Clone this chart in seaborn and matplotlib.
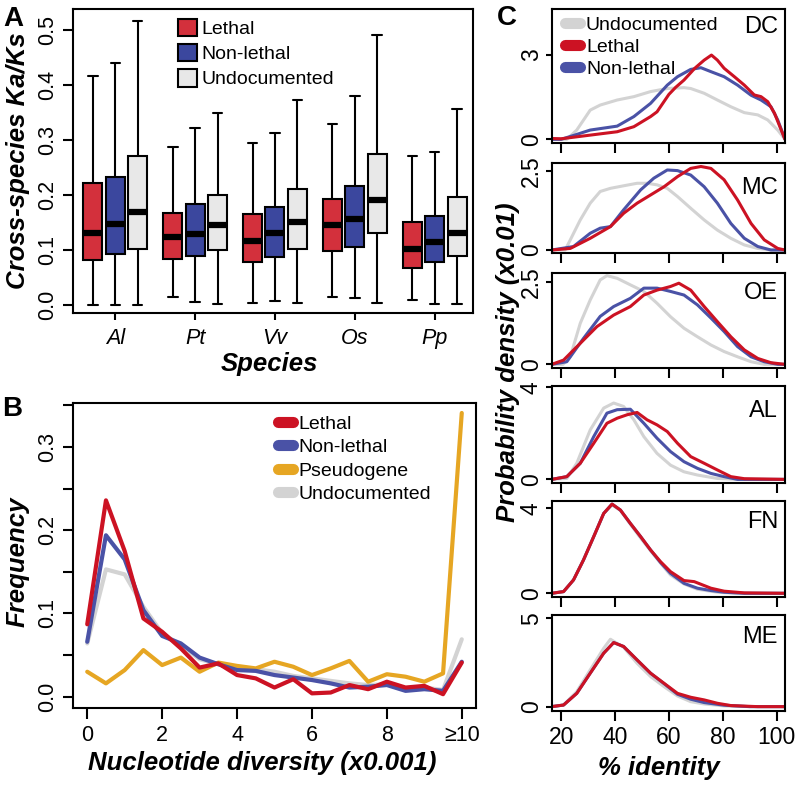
import numpy as np
import pandas as pd
import matplotlib
matplotlib.use("Agg")
import matplotlib.pyplot as plt
import seaborn as sns
from matplotlib.patches import Patch
from matplotlib.lines import Line2D

# ---------------- Panel A data: five-number summaries [min, q1, median, q3, max]
SPECIES = ["Al", "Pt", "Vv", "Os", "Pp"]
GROUPS_A = ["Lethal", "Non-lethal", "Undocumented"]
LETHAL_BOX = [[0.000, 0.082, 0.131, 0.221, 0.416],
              [0.014, 0.083, 0.123, 0.167, 0.288],
              [0.004, 0.078, 0.117, 0.165, 0.294],
              [0.014, 0.099, 0.146, 0.192, 0.329],
              [0.010, 0.068, 0.101, 0.150, 0.270]]
NONLETHAL_BOX = [[0.000, 0.092, 0.147, 0.232, 0.440],
                 [0.005, 0.090, 0.129, 0.184, 0.321],
                 [0.007, 0.088, 0.130, 0.179, 0.312],
                 [0.013, 0.105, 0.157, 0.216, 0.380],
                 [0.001, 0.079, 0.114, 0.161, 0.278]]
UNDOC_BOX = [[0.000, 0.101, 0.169, 0.270, 0.517],
             [0.002, 0.100, 0.146, 0.200, 0.349],
             [0.003, 0.101, 0.150, 0.210, 0.373],
             [0.004, 0.130, 0.190, 0.274, 0.491],
             [0.001, 0.090, 0.130, 0.197, 0.356]]

# ---------------- Panel B data
DIVERSITY = [0, 0.5, 1, 1.5, 2, 2.5, 3, 3.5, 4, 4.5, 5, 5.5, 6, 6.5, 7, 7.5, 8, 8.5, 9, 9.5, 10]
B_LETHAL = [0.087, 0.236, 0.175, 0.094, 0.078, 0.058, 0.035, 0.040, 0.026, 0.022, 0.011, 0.021,
            0.004, 0.005, 0.014, 0.009, 0.018, 0.011, 0.013, 0.003, 0.041]
B_NONLETHAL = [0.066, 0.194, 0.165, 0.104, 0.073, 0.064, 0.047, 0.039, 0.032, 0.031, 0.026, 0.023,
               0.020, 0.016, 0.011, 0.012, 0.014, 0.007, 0.009, 0.007, 0.042]
B_PSEUDO = [0.030, 0.016, 0.032, 0.056, 0.038, 0.047, 0.030, 0.041, 0.037, 0.034, 0.042, 0.036,
            0.026, 0.034, 0.043, 0.018, 0.027, 0.024, 0.018, 0.028, 0.341]
B_UNDOC = [0.064, 0.153, 0.147, 0.108, 0.076, 0.062, 0.045, 0.039, 0.033, 0.033, 0.030, 0.025,
           0.022, 0.019, 0.016, 0.014, 0.015, 0.010, 0.011, 0.008, 0.069]
B_XTICKS = [0, 2, 4, 6, 8, 10]
B_XLABELS = ["0", "2", "4", "6", "8", "\u226510"]

# ---------------- Panel C data (% identity, density x0.01)
C_PANELS = ["DC", "MC", "OE", "AL", "FN", "ME"]
C_YTICKS = [3, 2.5, 2.5, 4, 4, 5]
C_YLIMS = [(-0.12, 4.63), (-0.104, 2.76), (-0.12, 2.79), (-0.17, 4.06), (-0.16, 4.36), (-0.23, 5.18)]

DC_UNDOC_X = [16.5, 22.1, 25.8, 30.8, 34.5, 40.8, 47.0, 53.2, 59.4, 65.6, 68.1, 73.1, 78.0, 83.0, 88.0, 93.0, 96.7, 100.4, 103.1]
DC_UNDOC_Y = [0.0, 0.0, 0.33, 1.04, 1.22, 1.40, 1.52, 1.70, 1.81, 1.84, 1.81, 1.64, 1.40, 1.16, 0.95, 0.87, 0.69, 0.33, 0.0]
DC_NONL_X = [16.5, 20.0, 25.0, 30.8, 40.8, 47.0, 53.2, 59.4, 63.2, 68.1, 71.9, 75.6, 80.5, 85.5, 90.5, 94.2, 97.9, 100.4, 103.1]
DC_NONL_Y = [0.0, 0.0, 0.15, 0.33, 0.47, 0.81, 1.28, 1.93, 2.23, 2.49, 2.55, 2.41, 2.23, 1.93, 1.57, 1.40, 1.16, 0.69, 0.0]
DC_LETH_X = [16.5, 20.0, 25.0, 30.8, 40.8, 47.0, 53.2, 55.6, 60.0, 62.5, 65.6, 69.6, 73.1, 75.8, 78.0, 80.5, 84.3, 88.0, 91.7, 94.2, 96.7, 99.2, 101.7, 103.1]
DC_LETH_Y = [0.03, 0.02, 0.08, 0.15, 0.27, 0.45, 0.81, 0.98, 1.60, 1.85, 2.11, 2.53, 2.82, 3.00, 2.82, 2.53, 2.23, 1.93, 1.58, 1.52, 1.34, 0.93, 0.33, 0.0]

MC_UNDOC_X = [16.5, 21.5, 23.4, 27.1, 30.8, 34.5, 38.3, 43.2, 48.2, 51.9, 55.6, 59.4, 63.2, 68.1, 73.1, 78.0, 83.0, 88.0, 93.0, 97.9, 103.1]
MC_UNDOC_Y = [0.0, 0.0, 0.32, 0.95, 1.48, 1.85, 1.95, 2.03, 2.11, 2.11, 2.06, 1.95, 1.69, 1.32, 0.95, 0.63, 0.37, 0.16, 0.05, 0.0, 0.0]
MC_NONL_X = [16.5, 24.6, 30.8, 34.5, 38.3, 43.2, 49.5, 54.4, 59.4, 63.2, 68.1, 73.1, 78.0, 83.0, 88.0, 93.0, 97.9, 103.1]
MC_NONL_Y = [0.0, 0.11, 0.53, 0.69, 0.74, 1.27, 1.90, 2.27, 2.53, 2.51, 2.37, 2.00, 1.48, 0.84, 0.37, 0.11, 0.0, 0.0]
MC_LETH_X = [16.5, 23.4, 30.8, 38.3, 43.2, 48.2, 53.2, 58.2, 63.2, 68.1, 71.9, 75.6, 80.5, 85.5, 90.5, 95.4, 100.4, 103.1]
MC_LETH_Y = [0.0, 0.05, 0.37, 0.74, 1.16, 1.48, 1.74, 2.00, 2.32, 2.58, 2.64, 2.58, 2.22, 1.58, 0.84, 0.32, 0.05, 0.0]

OE_UNDOC_X = [16.5, 20.7, 23.4, 27.1, 30.8, 34.5, 37.0, 40.8, 45.7, 50.7, 55.6, 60.6, 65.6, 70.6, 75.6, 80.5, 85.5, 90.5, 95.4, 103.1]
OE_UNDOC_Y = [0.0, 0.0, 0.23, 1.25, 1.96, 2.57, 2.70, 2.62, 2.42, 2.22, 1.86, 1.45, 1.10, 0.84, 0.59, 0.39, 0.23, 0.08, 0.0, 0.0]
OE_NONL_X = [16.5, 22.1, 28.3, 34.5, 39.5, 45.7, 50.7, 55.6, 60.6, 65.6, 70.6, 75.6, 80.5, 85.5, 90.5, 95.4, 100.4, 103.1]
OE_NONL_Y = [0.0, 0.08, 0.79, 1.46, 1.76, 2.01, 2.32, 2.32, 2.22, 2.11, 1.81, 1.41, 1.00, 0.54, 0.23, 0.08, 0.0, 0.0]
OE_LETH_X = [16.5, 20.9, 27.1, 33.3, 39.5, 45.7, 50.7, 55.6, 60.6, 63.7, 68.1, 73.1, 78.0, 83.0, 88.0, 93.0, 97.9, 103.1]
OE_LETH_Y = [0.0, 0.13, 0.64, 1.15, 1.50, 1.76, 2.11, 2.26, 2.37, 2.47, 2.26, 1.76, 1.30, 0.84, 0.44, 0.18, 0.05, 0.0]

AL_UNDOC_X = [16.5, 22.1, 25.8, 30.8, 35.8, 39.5, 43.2, 47.0, 50.7, 55.6, 60.6, 65.6, 70.6, 78.0, 85.0, 103.1]
AL_UNDOC_Y = [0.0, 0.04, 0.70, 2.15, 3.10, 3.32, 3.17, 2.59, 1.86, 1.13, 0.62, 0.33, 0.19, 0.04, 0.0, 0.0]
AL_NONL_X = [16.5, 22.1, 27.1, 32.1, 37.0, 40.8, 45.7, 50.7, 55.6, 60.6, 65.6, 70.6, 75.6, 80.5, 85.5, 103.1]
AL_NONL_Y = [0.0, 0.12, 0.70, 1.86, 2.88, 3.03, 3.05, 2.44, 1.79, 1.21, 0.77, 0.48, 0.26, 0.12, 0.0, 0.0]
AL_LETH_X = [16.5, 22.1, 27.1, 32.1, 37.0, 40.8, 44.5, 48.2, 51.9, 55.6, 59.4, 63.2, 68.1, 73.1, 78.0, 83.0, 88.0, 103.1]
AL_LETH_Y = [0.0, 0.12, 0.70, 1.57, 2.44, 2.66, 2.81, 2.91, 2.59, 2.37, 2.08, 1.57, 0.99, 0.70, 0.41, 0.12, 0.03, 0.0]

FN_UNDOC_X = [16.5, 20.9, 24.6, 28.3, 32.1, 35.8, 38.9, 42.0, 45.7, 49.5, 53.2, 56.9, 60.6, 65.6, 70.6, 78.0, 85.0, 103.1]
FN_UNDOC_Y = [0.0, 0.08, 0.63, 1.57, 2.67, 3.76, 4.16, 3.90, 3.25, 2.60, 2.00, 1.42, 0.86, 0.44, 0.19, 0.05, 0.0, 0.0]
FN_NONL_X = [16.5, 20.9, 24.6, 28.3, 32.1, 35.8, 38.9, 42.0, 45.7, 49.5, 53.2, 56.9, 60.6, 65.6, 70.6, 75.6, 80.5, 88.0, 103.1]
FN_NONL_Y = [0.0, 0.08, 0.63, 1.57, 2.67, 3.76, 4.20, 3.92, 3.29, 2.67, 2.04, 1.45, 0.94, 0.47, 0.24, 0.13, 0.05, 0.0, 0.0]
FN_LETH_X = [16.5, 20.9, 24.6, 28.3, 32.1, 35.8, 38.9, 42.0, 45.7, 49.5, 53.2, 56.9, 60.6, 65.6, 69.4, 75.6, 80.5, 88.0, 103.1]
FN_LETH_Y = [0.0, 0.08, 0.63, 1.57, 2.67, 3.76, 4.20, 3.92, 3.29, 2.67, 2.04, 1.49, 1.02, 0.60, 0.55, 0.24, 0.10, 0.02, 0.0]

ME_UNDOC_X = [16.5, 20.9, 25.8, 30.8, 35.8, 38.3, 43.2, 48.2, 53.2, 58.2, 63.2, 68.1, 73.1, 80.5, 90.0, 103.1]
ME_UNDOC_Y = [0.0, 0.10, 0.85, 2.08, 3.30, 3.81, 3.35, 2.45, 1.70, 1.13, 0.60, 0.28, 0.15, 0.04, 0.0, 0.0]
ME_NONL_X = [16.5, 20.9, 25.8, 30.8, 35.8, 39.5, 43.2, 48.2, 53.2, 58.2, 63.2, 68.1, 73.1, 80.5, 90.0, 103.1]
ME_NONL_Y = [0.0, 0.09, 0.75, 1.89, 3.02, 3.62, 3.40, 2.64, 1.89, 1.30, 0.70, 0.42, 0.23, 0.08, 0.0, 0.0]
ME_LETH_X = [16.5, 20.9, 25.8, 30.8, 35.8, 39.5, 43.2, 48.2, 53.2, 58.2, 63.2, 68.1, 73.1, 78.0, 83.0, 93.0, 103.1]
ME_LETH_Y = [0.0, 0.09, 0.75, 1.89, 3.02, 3.62, 3.40, 2.64, 1.89, 1.32, 0.75, 0.53, 0.38, 0.19, 0.06, 0.0, 0.0]

C_XTICKS = [20, 40, 60, 80, 100]

# ---------------- colours
BOX_COLORS = {"Lethal": "#d3303c", "Non-lethal": "#3b479e", "Undocumented": "#e8e8e8"}
LINE_COLORS = {"Lethal": "#cc1223", "Non-lethal": "#4a52a6", "Pseudogene": "#e6a623",
               "Undocumented": "#d3d3d3"}

sns.set_style("ticks")
plt.rcParams["font.family"] = ["Liberation Sans", "DejaVu Sans"]
plt.rcParams["axes.linewidth"] = 1.5
plt.rcParams["xtick.major.width"] = 1.5
plt.rcParams["ytick.major.width"] = 1.5
for key in ["xtick.color", "ytick.color", "axes.edgecolor", "text.color", "axes.labelcolor",
            "xtick.labelcolor", "ytick.labelcolor"]:
    plt.rcParams[key] = "black"

W, H = 796, 785
fig = plt.figure(figsize=(W / 100, H / 100), dpi=100)


def rect(left, top, right, bottom):
    return [left / W, 1 - bottom / H, (right - left) / W, (bottom - top) / H]


LABEL_FONT = dict(fontsize=18.5, fontweight="bold", fontstyle="italic", color="black")


def style_axes(ax):
    for s in ax.spines.values():
        s.set_visible(True)
        s.set_linewidth(1.5)
        s.set_color("black")


# ================= Panel A =================
axA = fig.add_axes(rect(73, 9, 473, 313))
rows = []
for gname, boxes in zip(GROUPS_A, [LETHAL_BOX, NONLETHAL_BOX, UNDOC_BOX]):
    for sp, vals in zip(SPECIES, boxes):
        for v in vals:
            rows.append({"species": sp, "group": gname, "value": v})
dfA = pd.DataFrame(rows)
sns.boxplot(data=dfA, x="species", y="value", hue="group", order=SPECIES, hue_order=GROUPS_A,
            palette=BOX_COLORS, whis=(0, 100), width=0.84, gap=0.15, saturation=1,
            linecolor="black", linewidth=1.5, showfliers=False, legend=False,
            medianprops=dict(linewidth=4.5, color="black", solid_capstyle="butt"),
            ax=axA)
style_axes(axA)
axA.set_xlim(-0.53, 4.48)
axA.set_ylim(-0.0145, 0.538)
axA.set_yticks([0.0, 0.1, 0.2, 0.3, 0.4, 0.5])
axA.set_yticklabels(["0.0", "0.1", "0.2", "0.3", "0.4", "0.5"], rotation=90, va="center")
axA.set_xticks(range(len(SPECIES)))
axA.set_xticklabels(SPECIES, fontstyle="italic")
axA.tick_params(axis="x", length=5, pad=6, labelsize=15.5, direction="out")
axA.tick_params(axis="y", length=7.5, pad=3, labelsize=15.5, direction="out")
axA.set_xlabel("Species", **LABEL_FONT)
axA.set_ylabel("Cross-species Ka/Ks", **LABEL_FONT)
axA.xaxis.set_label_coords(0.49, -0.128)
axA.yaxis.set_label_coords(-0.108, 0.5)
handlesA = [Patch(facecolor=BOX_COLORS[g], edgecolor="black", linewidth=1.5, label=g) for g in GROUPS_A]
axA.legend(handles=handlesA, loc="upper left", bbox_to_anchor=(0.2625, 0.968), frameon=False,
           fontsize=14, handlelength=1.0, handleheight=1.0, handletextpad=0.2,
           labelspacing=0.3, borderpad=0, borderaxespad=0)

# ================= Panel B =================
axB = fig.add_axes(rect(73, 403, 476, 708))
recs = []
for name, ys in [("Undocumented", B_UNDOC), ("Pseudogene", B_PSEUDO),
                 ("Non-lethal", B_NONLETHAL), ("Lethal", B_LETHAL)]:
    for x, y in zip(DIVERSITY, ys):
        recs.append({"x": x, "y": y, "series": name})
dfB = pd.DataFrame(recs)
sns.lineplot(data=dfB, x="x", y="y", hue="series",
             hue_order=["Undocumented", "Pseudogene", "Non-lethal", "Lethal"],
             palette=LINE_COLORS, linewidth=3, estimator=None, sort=False, legend=False, ax=axB)
style_axes(axB)
axB.set_xlim(-0.38, 10.38)
axB.set_ylim(-0.0136, 0.353)
axB.set_xticks(B_XTICKS)
axB.set_xticklabels(B_XLABELS)
yt = [0.0, 0.05, 0.1, 0.15, 0.2, 0.25, 0.3, 0.35]
axB.set_yticks(yt)
axB.set_yticklabels(["0.0", "", "0.1", "", "0.2", "", "0.3", ""], rotation=90, va="center")
axB.tick_params(axis="x", length=8, pad=4, labelsize=15.5, direction="out")
axB.tick_params(axis="y", length=7.5, pad=3, labelsize=15.5, direction="out")
axB.set_xlabel("Nucleotide diversity (x0.001)", **LABEL_FONT)
axB.set_ylabel("Frequency", **LABEL_FONT)
axB.xaxis.set_label_coords(0.47, -0.142)
axB.yaxis.set_label_coords(-0.107, 0.48)
handlesB = [Line2D([0], [0], color=LINE_COLORS[n], linewidth=8, solid_capstyle="round", label=n)
            for n in ["Lethal", "Non-lethal", "Pseudogene", "Undocumented"]]
axB.legend(handles=handlesB, loc="upper left", bbox_to_anchor=(0.508, 0.96), frameon=False,
           fontsize=14, handlelength=0.8, handletextpad=0.25, labelspacing=0.3,
           borderpad=0, borderaxespad=0)

# ================= Panel C =================
C_BOUNDS = [(9.3, 142.7), (162.7, 253.3), (272.7, 368.3), (386, 483.3), (500.7, 596.7), (615, 710.7)]
C_NAME_BASE = [33.3, 194, 299.3, 416.7, 528.3, 643]
C_SERIES = {
    "DC": [(DC_UNDOC_X, DC_UNDOC_Y), (DC_NONL_X, DC_NONL_Y), (DC_LETH_X, DC_LETH_Y)],
    "MC": [(MC_UNDOC_X, MC_UNDOC_Y), (MC_NONL_X, MC_NONL_Y), (MC_LETH_X, MC_LETH_Y)],
    "OE": [(OE_UNDOC_X, OE_UNDOC_Y), (OE_NONL_X, OE_NONL_Y), (OE_LETH_X, OE_LETH_Y)],
    "AL": [(AL_UNDOC_X, AL_UNDOC_Y), (AL_NONL_X, AL_NONL_Y), (AL_LETH_X, AL_LETH_Y)],
    "FN": [(FN_UNDOC_X, FN_UNDOC_Y), (FN_NONL_X, FN_NONL_Y), (FN_LETH_X, FN_LETH_Y)],
    "ME": [(ME_UNDOC_X, ME_UNDOC_Y), (ME_NONL_X, ME_NONL_Y), (ME_LETH_X, ME_LETH_Y)],
}
C_ORDER = ["Undocumented", "Non-lethal", "Lethal"]
for i, pname in enumerate(C_PANELS):
    top, bottom = C_BOUNDS[i]
    ax = fig.add_axes(rect(551.7, top, 785, bottom))
    recs = []
    for sname, (xs, ys) in zip(C_ORDER, C_SERIES[pname]):
        for x, y in zip(xs, ys):
            recs.append({"x": x, "y": y, "series": sname})
    dfc = pd.DataFrame(recs)
    sns.lineplot(data=dfc, x="x", y="y", hue="series", hue_order=C_ORDER, palette=LINE_COLORS,
                 linewidth=2.2, estimator=None, sort=False, legend=False, ax=ax)
    style_axes(ax)
    ax.set_xlim(16.5, 103.1)
    ax.set_ylim(*C_YLIMS[i])
    ax.set_xticks(C_XTICKS)
    ax.set_yticks([0, C_YTICKS[i]])
    ax.set_yticklabels(["0", f"{C_YTICKS[i]:g}"], rotation=90, va="center")
    ax.tick_params(axis="y", length=4.5, pad=2, labelsize=16.5, direction="out")
    ax.tick_params(axis="x", length=7, pad=4, labelsize=16.5, direction="out")
    if i < len(C_PANELS) - 1:
        ax.set_xticklabels([])
    ax.set_xlabel("")
    ax.set_ylabel("")
    fig.text(778 / W, 1 - C_NAME_BASE[i] / H, pname, ha="right", va="baseline", fontsize=17)
    if i == 0:
        handlesC = [Line2D([0], [0], color=LINE_COLORS[n], linewidth=8, solid_capstyle="round", label=n)
                    for n in ["Undocumented", "Lethal", "Non-lethal"]]
        ax.legend(handles=handlesC, loc="upper left", bbox_to_anchor=(0.055, 0.945), frameon=False,
                  fontsize=14, handlelength=0.8, handletextpad=0.3, labelspacing=0.22,
                  borderpad=0, borderaxespad=0)

fig.text(508 / W, 1 - 362 / H, "Probability density (x0.01)", rotation=90, ha="center", va="center",
         **LABEL_FONT)
fig.text(659 / W, 1 - 775 / H, "% identity", ha="center", va="baseline", **LABEL_FONT)

# panel letters
fig.text(3 / W, 1 - 26 / H, "A", fontsize=20, fontweight="bold", ha="left", va="baseline")
fig.text(2 / W, 1 - 416 / H, "B", fontsize=20, fontweight="bold", ha="left", va="baseline")
fig.text(497 / W, 1 - 25 / H, "C", fontsize=20, fontweight="bold", ha="left", va="baseline")

fig.savefig("out.png", dpi=100)
